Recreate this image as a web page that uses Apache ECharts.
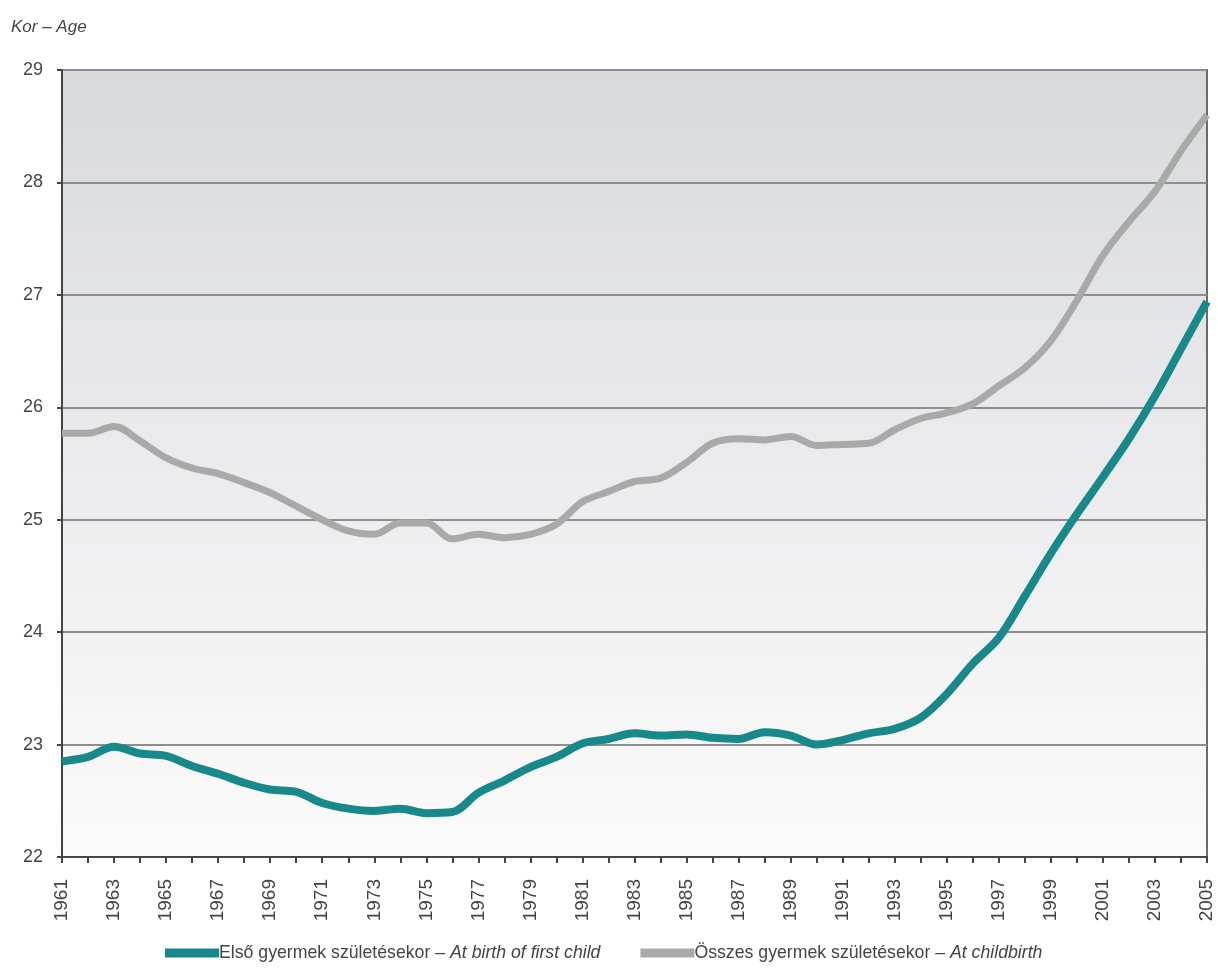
<!DOCTYPE html>
<html>
<head>
<meta charset="utf-8">
<script src="https://cdn.jsdelivr.net/npm/echarts@6/dist/echarts.min.js"></script>
<style>
  html, body { margin: 0; padding: 0; background: #ffffff; }
  #chart { width: 1218px; height: 970px; }
</style>
</head>
<body>
<div id="chart"></div>
<script>
// Mean age of mothers, 1961–2005
const years = [];
for (let y = 1961; y <= 2005; y++) years.push(String(y));

// Age at birth of first child
const firstChild = [
  22.85, 22.89, 22.98, 22.92, 22.90, 22.81, 22.74, 22.66, 22.60, 22.58,
  22.48, 22.43, 22.41, 22.43, 22.39, 22.40, 22.57, 22.68, 22.80, 22.89,
  23.01, 23.05, 23.10, 23.08, 23.09, 23.06, 23.05, 23.11, 23.08, 23.00,
  23.04, 23.10, 23.14, 23.24, 23.45, 23.72, 23.95, 24.32, 24.70, 25.05,
  25.38, 25.72, 26.10, 26.52, 26.94
];

// Age at childbirth (all births)
const allChildren = [
  25.77, 25.77, 25.83, 25.70, 25.55, 25.46, 25.41, 25.33, 25.24, 25.12,
  25.00, 24.90, 24.87, 24.97, 24.97, 24.83, 24.87, 24.84, 24.87, 24.96,
  25.16, 25.25, 25.34, 25.37, 25.51, 25.68, 25.72, 25.71, 25.74, 25.66,
  25.67, 25.68, 25.80, 25.90, 25.95, 26.03, 26.19, 26.35, 26.59, 26.95,
  27.35, 27.65, 27.92, 28.28, 28.60
];

const seriesNames = [
  'Első gyermek születésekor – At birth of first child',
  'Összes gyermek születésekor – At childbirth'
];
const legendParts = {
  [seriesNames[0]]: ['Első gyermek születésekor – ', 'At birth of first child'],
  [seriesNames[1]]: ['Összes gyermek születésekor – ', 'At childbirth']
};

const narrow = "'Liberation Sans Narrow', 'Arial Narrow', 'Liberation Sans', sans-serif";
const regular = "'Liberation Sans', Arial, sans-serif";
const chart = echarts.init(document.getElementById('chart'), null, { renderer: 'canvas' });

chart.setOption({
  animation: false,
  backgroundColor: '#ffffff',
  title: {
    text: 'Kor – Age',
    left: 6,
    top: 14,
    textStyle: { fontFamily: narrow, fontStyle: 'italic', fontWeight: 'normal', fontSize: 17, color: '#444' }
  },
  grid: {
    left: 62, right: 11, top: 70, bottom: 113,
    show: true,
    borderColor: '#6a6a6a',
    borderWidth: 2,
    backgroundColor: new echarts.graphic.LinearGradient(0, 0, 0, 1, [
      { offset: 0, color: '#d8d9dc' },
      { offset: 0.5, color: '#ebebed' },
      { offset: 1, color: '#fbfbfb' }
    ])
  },
  legend: {
    bottom: 3,
    left: 160,
    itemGap: 40,
    itemWidth: 54,
    itemHeight: 9,
    icon: 'rect',
    data: seriesNames,
    formatter: name => '{n|' + legendParts[name][0] + '}{i|' + legendParts[name][1] + '}',
    textStyle: {
      padding: [0, 0, 0, -5],
      rich: {
        n: { fontFamily: narrow, fontSize: 17.7, color: '#444' },
        i: { fontFamily: narrow, fontSize: 17.7, fontStyle: 'italic', color: '#444' }
      }
    }
  },
  xAxis: {
    type: 'category',
    data: years,
    boundaryGap: false,
    axisLine: { lineStyle: { color: '#444', width: 2 } },
    axisTick: { show: true, interval: 0, length: 6, lineStyle: { color: '#444', width: 2 } },
    axisLabel: {
      interval: 1,
      rotate: 90,
      margin: 22,
      fontFamily: regular,
      fontSize: 19,
      color: '#444'
    },
    splitLine: { show: false }
  },
  yAxis: {
    type: 'value',
    min: 22,
    max: 29,
    interval: 1,
    axisLine: { show: true, lineStyle: { color: '#444', width: 2 } },
    axisTick: { show: true, length: 5, lineStyle: { color: '#444', width: 2 } },
    axisLabel: { margin: 19, fontFamily: regular, fontSize: 18, color: '#444' },
    splitLine: { lineStyle: { color: '#8e8e8e', width: 2 } }
  },
  series: [
    {
      name: seriesNames[0],
      type: 'line',
      data: firstChild,
      smooth: 0.35,
      symbol: 'none',
      z: 3,
      lineStyle: { color: '#18898a', width: 8 },
      itemStyle: { color: '#18898a' }
    },
    {
      name: seriesNames[1],
      type: 'line',
      data: allChildren,
      smooth: 0.35,
      symbol: 'none',
      z: 2,
      lineStyle: { color: '#a9a9a9', width: 7 },
      itemStyle: { color: '#a9a9a9' }
    }
  ]
});
</script>
</body>
</html>
